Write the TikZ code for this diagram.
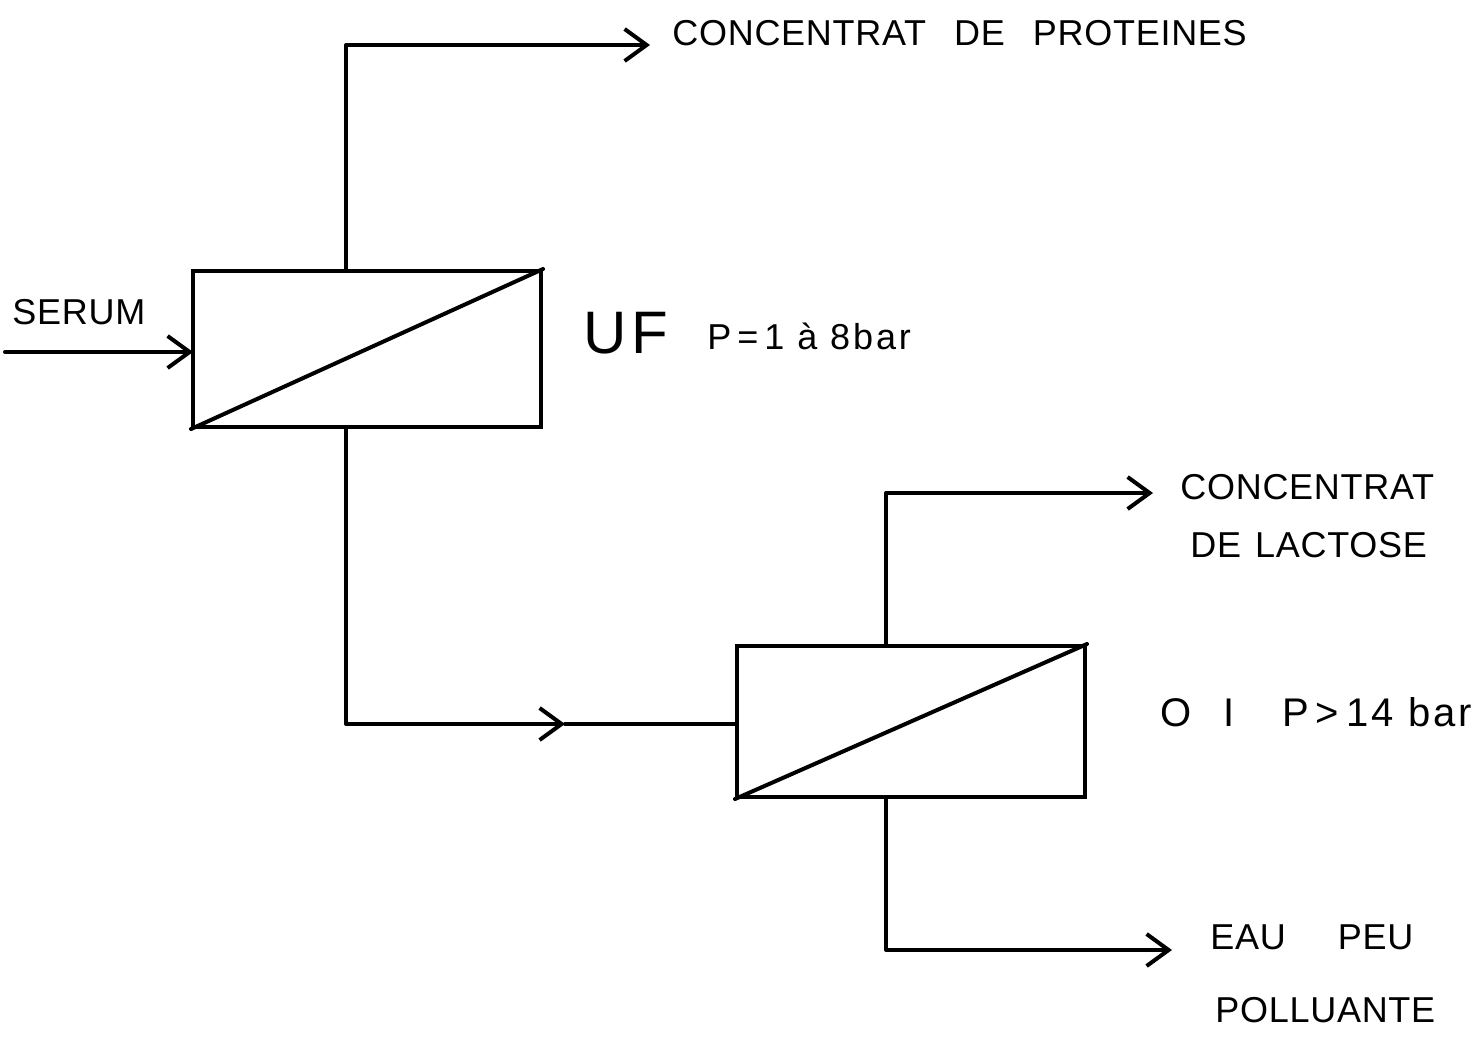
\documentclass[tikz,border=0pt]{standalone}
\usepackage{fontspec}
\setmainfont{Liberation Sans}
\newfontfamily\hand[LetterSpace=2]{Liberation Sans}
\newfontfamily\handw[LetterSpace=8]{Liberation Sans}
\usetikzlibrary{arrows.meta}
\begin{document}
\begin{tikzpicture}[x=0.5pt,y=-0.5pt,
  flow/.style={line width=2pt,line cap=round,line join=round},
  arr/.style={flow,-{Straight Barb[length=11pt,width=16pt,line width=2pt]}},
  unit/.style={draw,line width=2pt,rectangle,minimum width=174pt,inner sep=0pt},
  lbl/.style={font=\hand\fontsize{18}{20}\selectfont,anchor=west,inner sep=0pt},
  lblw/.style={font=\handw\fontsize{18}{20}\selectfont,anchor=west,inner sep=0pt},
  big/.style={font=\handw\fontsize{30}{32}\selectfont,anchor=west,inner sep=0pt}]
\useasboundingbox (0,0) rectangle (1473,1041);
% units
\node[unit,minimum height=78pt] (uf) at (367,349) {};
\node[unit,minimum height=75.5pt] (oi) at (911,721.5) {};
\draw[flow] (uf.south west) -- (uf.north east);
\draw[flow] (oi.south west) -- (oi.north east);
% coordinates
\coordinate (ufT) at (346,271);
\coordinate (ufTc) at (346,45);
\coordinate (ufTe) at (650,45);
\coordinate (in) at (5,352);
\coordinate (ufIn) at (193,352);
\coordinate (ufB) at (346,427);
\coordinate (ufBc) at (346,724);
\coordinate (mid) at (565,724);
\coordinate (oiIn) at (737,724);
\coordinate (oiT) at (886,646);
\coordinate (oiTc) at (886,493);
\coordinate (oiTe) at (1153,493);
\coordinate (oiB) at (886,797);
\coordinate (oiBc) at (886,950);
\coordinate (oiBe) at (1172,950);
% connectors
\draw[arr] (ufT) -- (ufTc) -- (ufTe);
\draw[arr] (in) -- (ufIn);
\draw[arr] (ufB) -- (ufBc) -- (mid);
\draw[flow] (mid) -- (oiIn);
\draw[arr] (oiT) -- (oiTc) -- (oiTe);
\draw[arr] (oiB) -- (oiBc) -- (oiBe);
% labels
\node[lbl] (t1) at (672,33) {CONCENTRAT\hspace{14pt}DE\hspace{14pt}PROTEINES};
\node[lbl] (t2) at (12,312) {SERUM};
\node[big] (t3) at (583,333) {UF};
\node[lblw] (t4) at (707,336) {P\,=\,1 à 8bar};
\node[lbl] (t5) at (1180,487) {CONCENTRAT};
\node[lbl] (t6) at (1190,545) {DE\hspace{7pt}LACTOSE};
\node[lblw,font=\handw\fontsize{20}{22}\selectfont] (t7) at (1160,712) {O\hspace{16pt}I\hspace{24pt}P\,>\,14 bar};
\node[lbl] (t8) at (1210,937) {EAU\hspace{26pt}PEU};
\node[lbl] (t9) at (1215,1010) {POLLUANTE};
\end{tikzpicture}
\end{document}
